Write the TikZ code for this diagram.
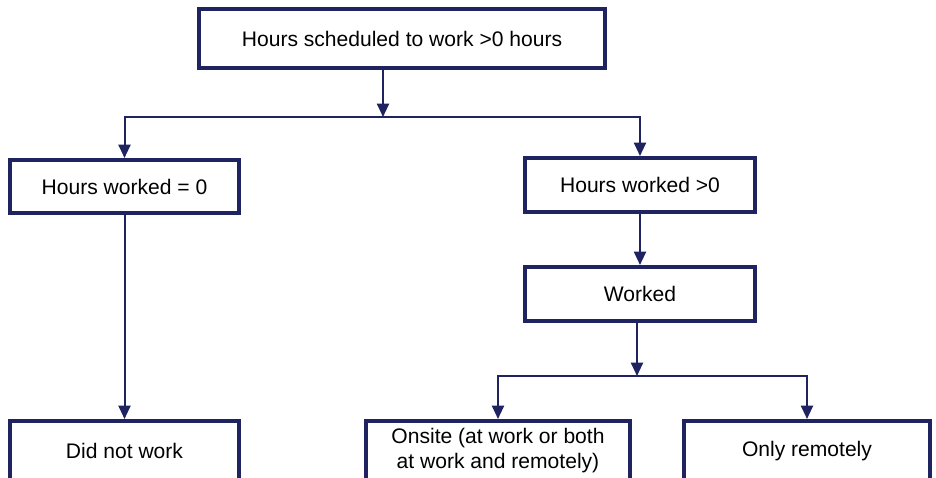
\documentclass[tikz,border=0pt]{standalone}
\usepackage{fontspec}
\setmainfont{Liberation Sans}
\usepackage{tikz}
\usetikzlibrary{arrows.meta}
\definecolor{navy}{RGB}{31,36,96}

\begin{document}
\begin{tikzpicture}[x=0.75pt, y=-0.75pt, >={Triangle[width=9pt,length=10pt]},
  every node/.style={font=\fontsize{15.8}{18.8}\selectfont},
  box/.style={draw=navy, line width=3pt, fill=white, align=center, inner sep=0pt},
  arr/.style={->, draw=navy, line width=1.5pt},
  bus/.style={draw=navy, line width=1.5pt}]

  % --- frame ---
  \useasboundingbox (0,0) rectangle (936,478);
  \clip (0,0) rectangle (936,478);
  \fill[white] (0,0) rectangle (936,478);

  % --- column positions ---
  \def\xl{124.5}
  \def\xr{640}

  % ============================================================
  % boxes (sizes in pt: pixel size x 0.75)
  % ============================================================
  \node[box, minimum width=304.5pt, minimum height=44.25pt] (sched) at (402,38.5) {Hours scheduled to work >0 hours};

  \node[box, minimum width=171.75pt, minimum height=39.75pt] (zero) at (\xl,186.5) {Hours worked = 0};
  \node[box, minimum width=172.5pt, minimum height=40.5pt] (pos) at (\xr,185) {Hours worked >0};
  \node[box, minimum width=172.5pt, minimum height=40.5pt] (worked) at (\xr,294) {Worked};

  \node[box, minimum width=171.75pt, minimum height=45pt] (notwork) at (\xl,451) {Did not work};
  \node[box, minimum width=198pt, minimum height=45pt] (onsite) at (498,451) {Onsite (at work or both\\at work and remotely)};
  \node[box, minimum width=184.5pt, minimum height=45pt] (remote) at (807,451) {Only remotely};

  % --- split points ---
  \coordinate (split1) at (383,117);
  \coordinate (split2) at (637,376);

  % ============================================================
  % connectors
  % ============================================================
  \draw[arr] (sched.south -| split1) -- (split1);
  \draw[arr] (split1) -| (zero.north);
  \draw[arr] (split1) -| (pos.north);

  \draw[arr] (zero.south) -- (notwork.north);

  \draw[arr] (pos.south) -- (worked.north);
  \draw[arr] (worked.south -| split2) -- (split2);
  \draw[arr] (split2) -| (onsite.north);
  \draw[arr] (split2) -| (remote.north);

\end{tikzpicture}
\end{document}
